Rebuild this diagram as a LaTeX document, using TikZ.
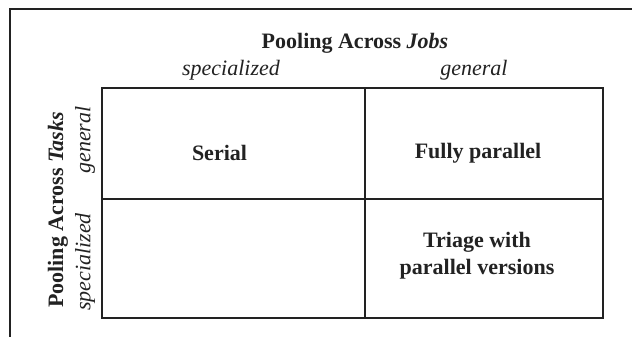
\documentclass[tikz,border=0pt]{standalone}
\usepackage{fontspec}
\setmainfont{Liberation Serif}
\definecolor{ink}{HTML}{222222}
\begin{document}
\begin{tikzpicture}[x=0.5pt,y=-0.5pt,
  frameline/.style={draw=ink,line width=1pt},
  cell/.style={draw=ink,line width=0.9pt,rectangle,inner sep=0pt,anchor=north west},
  head/.style={font=\fontsize{11}{13}\selectfont\bfseries,text=ink,inner sep=0pt},
  tick/.style={font=\fontsize{11}{13}\selectfont\itshape,text=ink,inner sep=0pt},
  entry/.style={font=\fontsize{11}{13.5}\selectfont\bfseries,text=ink,align=center,inner sep=0pt}]
\useasboundingbox (0,0) rectangle (632,337);
\fill[white] (0,0) rectangle (632,337);

% outer frame: top rule and left rule
\coordinate (fl) at (10,9);
\coordinate (fr) at (632,9);
\coordinate (fb) at (10,337);
\draw[frameline] (fr) -- (fl) -- (fb);

% the 2x2 grid
\node[cell,minimum width=131.5pt,minimum height=55.5pt] (c11) at (101,87) {};
\node[cell,minimum width=119pt,minimum height=55.5pt] (c12) at (364,87) {};
\node[cell,minimum width=131.5pt,minimum height=59.5pt] (c21) at (101,198) {};
\node[cell,minimum width=119pt,minimum height=59.5pt] (c22) at (364,198) {};

% column headings
\node[head] (jobs) at (355,43) {Pooling Across \textit{Jobs}};
\node[tick] (jspec) at (231,70) {specialized};
\node[tick] (jgen) at (474,70) {general};

% row headings
\node[head,rotate=90] (tasks) at (58,210) {Pooling Across \textit{Tasks}};
\node[tick,rotate=90] (tgen) at (85,140) {general};
\node[tick,rotate=90] (tspec) at (85,262) {specialized};

% cell entries
\node[entry] (serial) at (219.5,153) {Serial};
\node[entry] (fully) at (478,153) {Fully parallel};
\node[entry] (triage) at (477,256) {Triage with\\parallel versions};
\end{tikzpicture}
\end{document}
